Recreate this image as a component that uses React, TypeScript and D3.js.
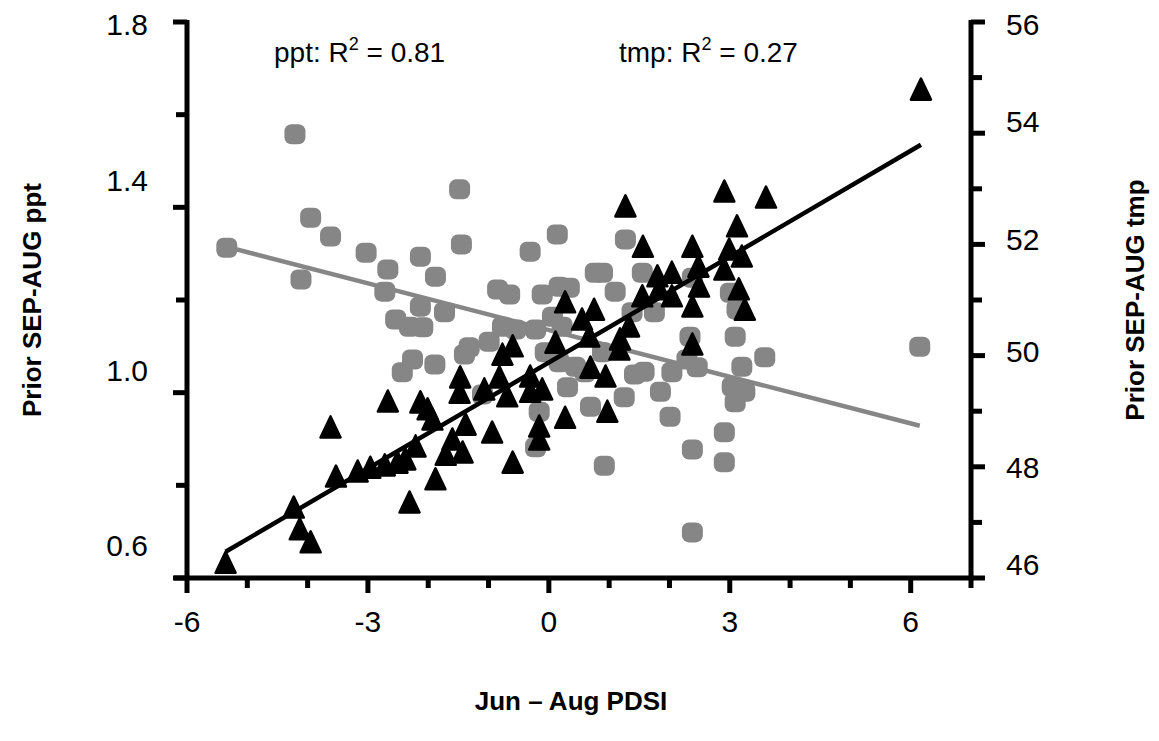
import React, { useEffect, useRef } from 'react';
import * as d3 from 'd3';

// ppt series (black triangles, left axis)
const pdsiPpt = [
  -5.36, -4.23, -4.13, -3.95, -3.62, -3.53, -3.17, -2.96, -2.72, -2.51,
  -2.67, -2.38, -2.21, -2.31, -2.13, -2.01, -1.93, -1.88, -1.71, -1.6,
  -1.43, -1.48, -1.47, -1.38, -1.07, -0.94, -0.82, -0.77, -0.69, -0.6,
  -0.6, -0.31, -0.31, -0.16, -0.16, -0.11, 0.11, 0.27, 0.27, 0.55,
  0.67, 0.75, 0.69, 0.94, 0.97, 1.17, 1.18, 1.33, 1.27, 1.55,
  1.56, 1.8, 1.83, 2.04, 2.04, 2.38, 2.38, 2.38, 2.48, 2.49,
  2.91, 2.91, 2.99, 3.12, 3.15, 3.2, 3.25, 3.6, 6.17,
];
const pptValues = [
  0.633, 0.752, 0.705, 0.677, 0.925, 0.819, 0.83, 0.838, 0.843, 0.849,
  0.981, 0.856, 0.884, 0.763, 0.979, 0.964, 0.942, 0.813, 0.866, 0.899,
  0.871, 1.0, 1.033, 0.931, 1.007, 0.914, 1.033, 1.082, 0.992, 1.1,
  0.849, 1.035, 1.002, 0.927, 0.899, 1.007, 1.108, 1.195, 0.946, 1.158,
  1.121, 1.179, 1.054, 1.035, 0.959, 1.093, 1.115, 1.143, 1.402, 1.208,
  1.315, 1.251, 1.223, 1.259, 1.208, 1.315, 1.186, 1.104, 1.272, 1.229,
  1.434, 1.266, 1.309, 1.359, 1.223, 1.294, 1.179, 1.421, 1.654,
];

// tmp series (gray markers, right axis)
const pdsiTmp = [
  -5.34, -4.21, -4.11, -3.95, -3.62, -3.03, -2.67, -2.72, -2.54, -2.43,
  -2.31, -2.26, -2.13, -2.13, -2.09, -1.89, -1.88, -1.73, -1.48, -1.45,
  -1.4, -1.32, -1.1, -0.99, -0.85, -0.77, -0.65, -0.55, -0.31, -0.22,
  -0.22, -0.16, -0.11, -0.06, 0.06, 0.14, 0.17, 0.17, 0.22, 0.31,
  0.34, 0.44, 0.6, 0.69, 0.77, 0.92, 0.89, 0.89, 1.1, 1.25,
  1.27, 1.38, 1.42, 1.55, 1.58, 1.75, 1.85, 2.01, 2.04, 2.29,
  2.34, 2.38, 2.38, 2.38, 2.46, 2.91, 2.91, 3.01, 3.04, 3.09,
  3.09, 3.12, 3.2, 3.25, 3.58, 6.15,
];
const tmpValues = [
  51.94, 53.98, 51.37, 52.48, 52.14, 51.85, 51.55, 51.15, 50.65, 49.7,
  50.52, 49.93, 51.78, 50.88, 50.51, 49.84, 51.42, 50.78, 52.99, 52.0,
  50.02, 50.15, 49.3, 50.25, 51.19, 50.52, 51.1, 50.47, 51.87, 50.47,
  48.35, 48.99, 51.1, 50.06, 50.7, 52.18, 51.24, 49.88, 50.52, 49.43,
  51.22, 49.8, 49.7, 49.08, 51.49, 48.02, 51.49, 50.06, 51.15, 49.25,
  52.09, 50.78, 49.66, 51.49, 49.71, 50.78, 49.35, 48.9, 49.7, 49.93,
  50.34, 51.4, 48.31, 46.82, 49.79, 48.62, 48.08, 51.13, 49.44, 50.34,
  49.16, 50.83, 49.8, 49.35, 49.97, 50.16,
];

// fitted lines
const pptSlope = 0.0762;
const pptIntercept = 1.065;
const tmpSlope = -0.28;
const tmpIntercept = 50.46;

const xTicks = [-6, -3, 0, 3, 6];
const xTickLabels = ['-6', '-3', '0', '3', '6'];
const leftTicks = [1.8, 1.4, 1.0, 0.6];
const leftTickLabels = ['1.8', '1.4', '1.0', '0.6'];
const rightTicks = [56, 54, 52, 50, 48, 46];
const rightTickLabels = ['56', '54', '52', '50', '48', '46'];

const FONT = '"Liberation Sans", Arial, Helvetica, sans-serif';

const App = () => {
  const svgRef = useRef<SVGSVGElement>(null);

  useEffect(() => {
    const svg = d3.select(svgRef.current);
    svg.selectAll('*').remove();

    const width = 1159;
    const height = 741;
    const top = 22;
    const bottom = 578;

    const x = d3.scaleLinear().domain([-6, 7]).range([187, 971]);
    const yL = d3.scaleLinear().domain([0.6, 1.8]).range([bottom, top]);
    const yR = d3.scaleLinear().domain([46, 56]).range([bottom, top]);

    svg.attr('width', width).attr('height', height);
    svg.append('rect').attr('width', width).attr('height', height).attr('fill', '#fff');

    const axes = svg.append('g').attr('stroke', '#000').attr('stroke-width', 5);
    const xl = x(-6);
    const xr = x(7);

    // axis lines
    axes.append('line').attr('x1', 174).attr('x2', xr + 3).attr('y1', bottom).attr('y2', bottom);
    axes.append('line').attr('x1', xl).attr('x2', xl).attr('y1', top - 2).attr('y2', bottom + 15);
    axes.append('line').attr('x1', xr).attr('x2', xr).attr('y1', top - 2).attr('y2', bottom + 10);

    // x ticks
    d3.range(-5, 7).forEach(v => {
      const major = xTicks.includes(v);
      axes.append('line')
        .attr('x1', x(v)).attr('x2', x(v))
        .attr('y1', bottom).attr('y2', bottom + (major ? 15 : 10));
    });

    // left ticks
    [1.8, 1.6, 1.4, 1.2, 1.0, 0.8, 0.6].forEach(v => {
      const major = leftTicks.some(t => Math.abs(t - v) < 1e-6);
      axes.append('line')
        .attr('x1', xl).attr('x2', xl - (major ? 14 : 11))
        .attr('y1', yL(v)).attr('y2', yL(v));
    });

    // right ticks
    d3.range(46, 57).forEach(v => {
      const major = rightTicks.includes(v);
      axes.append('line')
        .attr('x1', xr).attr('x2', xr + (major ? 14 : 11))
        .attr('y1', yR(v)).attr('y2', yR(v));
    });

    const text = svg.append('g').attr('font-family', FONT).attr('fill', '#000');

    // tick labels (the original labels sit a little off their ticks)
    const leftNudge = [2, -27, -22, -33];
    leftTicks.forEach((v, i) => {
      text.append('text')
        .attr('x', 148).attr('y', yL(v) + leftNudge[i] + 10.5)
        .attr('text-anchor', 'end').attr('font-size', 30)
        .text(leftTickLabels[i]);
    });
    const rightNudge = [2, -12, -5, -4, 1, -14];
    rightTicks.forEach((v, i) => {
      text.append('text')
        .attr('x', 1006).attr('y', yR(v) + rightNudge[i] + 10.5)
        .attr('font-size', 30)
        .text(rightTickLabels[i]);
    });
    xTicks.forEach((v, i) => {
      text.append('text')
        .attr('x', x(v)).attr('y', 632)
        .attr('text-anchor', 'middle').attr('font-size', 30)
        .text(xTickLabels[i]);
    });

    // R2 annotations
    const r2 = (tx: number, name: string, val: string) => {
      const t = text.append('text').attr('x', tx).attr('y', 62).attr('font-size', 28);
      t.append('tspan').text(`${name}: R`);
      t.append('tspan').attr('font-size', 18).attr('dy', -12).text('2');
      t.append('tspan').attr('dy', 12).text(` = ${val}`);
    };
    r2(274, 'ppt', '0.81');
    r2(619, 'tmp', '0.27');

    // axis titles
    text.append('text')
      .attr('transform', `translate(41,${300}) rotate(-90)`)
      .attr('text-anchor', 'middle').attr('font-size', 26).attr('font-weight', 'bold')
      .text('Prior SEP-AUG ppt');
    text.append('text')
      .attr('transform', `translate(1144,${300}) rotate(-90)`)
      .attr('text-anchor', 'middle').attr('font-size', 26).attr('font-weight', 'bold')
      .text('Prior SEP-AUG tmp');
    text.append('text')
      .attr('x', 571).attr('y', 710)
      .attr('text-anchor', 'middle').attr('font-size', 26).attr('font-weight', 'bold')
      .text('Jun \u2013 Aug PDSI');

    // gray markers (tmp)
    const gray = '#868686';
    svg.append('g')
      .selectAll('rect')
      .data(pdsiTmp)
      .enter()
      .append('rect')
      .attr('x', d => x(d) - 10.5)
      .attr('y', (d, i) => yR(tmpValues[i]) - 10)
      .attr('width', 21)
      .attr('height', 20)
      .attr('rx', 7)
      .attr('fill', gray);

    // tmp fit line
    const tmpExt = d3.extent(pdsiTmp) as [number, number];
    svg.append('path')
      .datum(tmpExt)
      .attr('d', d3.line<number>().x(d => x(d)).y(d => yR(tmpIntercept + tmpSlope * d)))
      .attr('stroke', gray)
      .attr('stroke-width', 4.5)
      .attr('fill', 'none');

    // triangles (ppt)
    svg.append('g')
      .selectAll('path')
      .data(pdsiPpt)
      .enter()
      .append('path')
      .attr('transform', (d, i) => `translate(${x(d)},${yL(pptValues[i])})`)
      .attr('d', 'M0,-11L10,10L-10,10Z')
      .attr('fill', '#000')
      .attr('stroke', '#000')
      .attr('stroke-width', 2.5)
      .attr('stroke-linejoin', 'round');

    // ppt fit line
    const pptExt = d3.extent(pdsiPpt) as [number, number];
    svg.append('path')
      .datum(pptExt)
      .attr('d', d3.line<number>().x(d => x(d)).y(d => yL(pptIntercept + pptSlope * d)))
      .attr('stroke', '#000')
      .attr('stroke-width', 4.5)
      .attr('fill', 'none');
  }, []);

  return (
    <svg
      ref={svgRef}
      style={{ position: 'absolute', left: 0, top: 0, display: 'block' }}
    />
  );
};

export default App;
